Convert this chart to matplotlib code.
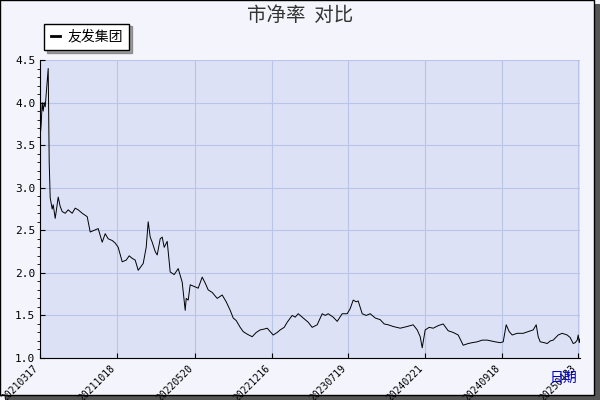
import matplotlib.pyplot as plt
from matplotlib.patches import Rectangle
from matplotlib.ticker import MultipleLocator

plt.rcParams['font.family'] = ['Noto Sans CJK SC', 'DejaVu Sans']

# position along the trading timeline (0..540) and price-to-book ratio
t = [0, 1, 2, 3, 4, 5, 6, 7, 8, 9, 10, 12, 13, 15, 16, 18, 20, 22, 25, 28, 32, 35, 38, 42,
     47, 50, 54, 58, 62, 65, 68, 72, 75, 78, 82, 86, 89, 92, 95, 98, 103, 106, 108, 110, 112,
     115, 117, 120, 122, 124, 127, 130, 134, 138, 142, 145, 146, 148, 150, 154, 158, 162, 165,
     168, 172, 177, 182, 186, 190, 193, 196, 200, 203, 207, 212, 216, 220, 224, 227, 230, 233,
     237, 240, 244, 247, 252, 255, 258, 263, 268, 272, 277, 282, 285, 288, 293, 297, 302, 307,
     310, 313, 316, 318, 322, 326, 330, 335, 340, 344, 348, 353, 360, 367, 373, 377, 380, 382,
     385, 389, 393, 398, 403, 408, 413, 418, 423, 428, 432, 437, 442, 447, 451, 455, 460, 463,
     466, 469, 472, 477, 483, 488, 493, 496, 498, 500, 504, 507, 510, 513, 518, 522, 527, 530,
     533, 535, 537, 538, 539, 540]
pb = [3.6, 3.75, 4.0, 3.9, 4.0, 3.95, 4.1, 4.25, 4.4, 3.3, 2.88, 2.75, 2.8, 2.64, 2.72, 2.89,
      2.78, 2.72, 2.70, 2.74, 2.70, 2.76, 2.74, 2.70, 2.66, 2.48, 2.50, 2.52, 2.36, 2.46, 2.40,
      2.38, 2.35, 2.30, 2.13, 2.15, 2.20, 2.17, 2.15, 2.03, 2.11, 2.30, 2.60, 2.42, 2.36, 2.25,
      2.21, 2.40, 2.42, 2.30, 2.37, 2.01, 1.98, 2.05, 1.89, 1.56, 1.70, 1.68, 1.86, 1.84, 1.82,
      1.95, 1.88, 1.80, 1.77, 1.70, 1.74, 1.66, 1.56, 1.47, 1.44, 1.36, 1.31, 1.28, 1.25, 1.30,
      1.33, 1.34, 1.35, 1.31, 1.27, 1.30, 1.33, 1.36, 1.42, 1.50, 1.48, 1.52, 1.47, 1.42, 1.36,
      1.39, 1.52, 1.50, 1.52, 1.48, 1.43, 1.52, 1.52, 1.58, 1.68, 1.66, 1.67, 1.52, 1.50, 1.52,
      1.47, 1.45, 1.40, 1.39, 1.37, 1.35, 1.37, 1.39, 1.33, 1.25, 1.12, 1.33, 1.36, 1.35, 1.38,
      1.40, 1.32, 1.30, 1.27, 1.15, 1.17, 1.18, 1.19, 1.21, 1.21, 1.20, 1.19, 1.18, 1.19, 1.39,
      1.31, 1.27, 1.29, 1.29, 1.31, 1.33, 1.39, 1.25, 1.19, 1.18, 1.17, 1.20, 1.21, 1.27, 1.29,
      1.27, 1.24, 1.17, 1.18, 1.21, 1.27, 1.18, 1.23]
tick_pos = [0, 77, 155, 232, 308, 385, 462, 538]
tick_labels = ['20210317', '20211018', '20220520', '20221216', '20230719', '20240221',
               '20240918', '20250423']

fig = plt.figure(figsize=(6, 4), dpi=100, facecolor='#f4f4fc')
# frame with shadow
fig.patches.append(Rectangle((0.008, 0.0), 0.992, 0.99, transform=fig.transFigure,
                             facecolor='#555555', edgecolor='none', zorder=-2))
fig.patches.append(Rectangle((0.0, 0.012), 0.99, 0.988, transform=fig.transFigure,
                             facecolor='#f4f4fc', edgecolor='black', lw=1, zorder=-1))

ax = fig.add_axes([0.067, 0.105, 0.9, 0.745])
ax.set_facecolor('#dce1f6')
ax.plot(t, pb, color='black', lw=0.7, label='友发集团')
ax.set_xlim(0, 540)
ax.set_ylim(1.0, 4.5)
ax.yaxis.set_major_locator(MultipleLocator(0.5))
ax.yaxis.set_minor_locator(MultipleLocator(0.1))
ax.set_xticks(tick_pos)
ax.set_xticklabels(tick_labels, rotation=45, ha='right', fontsize=7, family='DejaVu Sans Mono')
ax.tick_params(axis='y', labelsize=8, direction='in')
ax.tick_params(axis='x', direction='in')
for lab in ax.get_yticklabels():
    lab.set_family('DejaVu Sans Mono')
ax.grid(True, color='#b8c4e8', lw=0.8)
for s in ['top', 'right']:
    ax.spines[s].set_visible(False)

fig.text(0.5, 0.962, '市净率  对比', ha='center', va='center', fontsize=14, color='#333333')
fig.text(0.963, 0.055, '日期', ha='right', va='center', fontsize=10, color='#0000cc')
leg = ax.legend(loc='lower left', bbox_to_anchor=(-0.005, 1.01), fontsize=10, fancybox=False,
                shadow=True, framealpha=1, edgecolor='black', handlelength=0.7,
                borderpad=0.45, handletextpad=0.5)
for h in leg.get_lines():
    h.set_linewidth(2)

fig.savefig('out.png', dpi=100, facecolor=fig.get_facecolor())
